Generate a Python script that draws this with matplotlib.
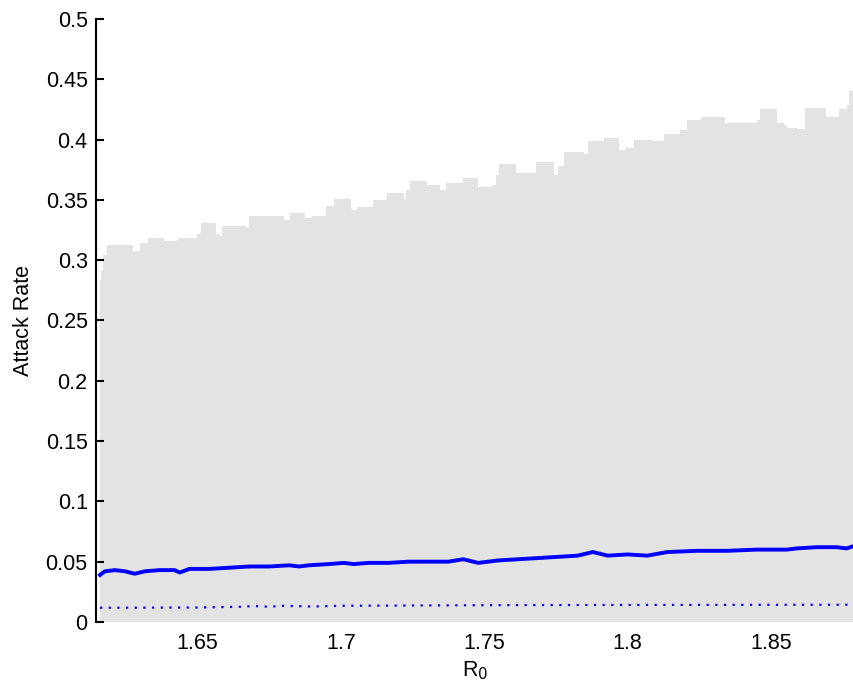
import numpy as np
import matplotlib
matplotlib.use('Agg')
import matplotlib.pyplot as plt

plt.rcParams['font.family'] = ['Liberation Sans', 'DejaVu Sans']

# upper envelope of the grey band (step edges in R0, value per step)
band_edges = [1.6146, 1.6160, 1.6163, 1.6170, 1.6184, 1.6274, 1.6299, 1.6327, 1.6382,
              1.6431, 1.6497, 1.6511, 1.6563, 1.6577, 1.6587, 1.6670, 1.6681, 1.6802,
              1.6823, 1.6875, 1.6899, 1.6948, 1.6976, 1.7035, 1.7056, 1.7111, 1.7160,
              1.7219, 1.7229, 1.7243, 1.7299, 1.7347, 1.7368, 1.7427, 1.7479, 1.7528,
              1.7542, 1.7552, 1.7611, 1.7681, 1.7743, 1.7757, 1.7778, 1.7847, 1.7861,
              1.7917, 1.7972, 1.7990, 1.8021, 1.8090, 1.8128, 1.8184, 1.8208, 1.8257,
              1.8340, 1.8451, 1.8462, 1.8521, 1.8545, 1.8556, 1.8590, 1.8618, 1.8632,
              1.8694, 1.8736, 1.8764, 1.8771, 1.8800]
band_upper = [0.0, 0.2835, 0.292, 0.304, 0.3125, 0.308, 0.314, 0.318, 0.316,
              0.318, 0.322, 0.331, 0.322, 0.320, 0.328, 0.327, 0.337, 0.333,
              0.339, 0.335, 0.337, 0.345, 0.351, 0.342, 0.344, 0.350, 0.356,
              0.351, 0.358, 0.366, 0.362, 0.358, 0.364, 0.368, 0.361, 0.362,
              0.371, 0.380, 0.372, 0.381, 0.371, 0.378, 0.390, 0.388, 0.399,
              0.401, 0.391, 0.393, 0.400, 0.399, 0.405, 0.408, 0.416, 0.419,
              0.414, 0.416, 0.425, 0.414, 0.412, 0.410, 0.409, 0.426, 0.426,
              0.419, 0.425, 0.429, 0.440]

# mean attack rate (solid) and lower line (dotted)
r0_mean = [1.6160, 1.6177, 1.6212, 1.6247, 1.6281, 1.6316, 1.6368, 1.6420, 1.6438,
           1.6472, 1.6542, 1.6611, 1.6681, 1.6750, 1.6820, 1.6854, 1.6889, 1.6958,
           1.7011, 1.7045, 1.7097, 1.7167, 1.7236, 1.7306, 1.7375, 1.7427, 1.7479,
           1.7549, 1.7618, 1.7688, 1.7757, 1.7826, 1.7879, 1.7931, 1.8000, 1.8069,
           1.8139, 1.8243, 1.8347, 1.8451, 1.8556, 1.8590, 1.8660, 1.8729, 1.8764,
           1.8790]
mean_rate = [0.039, 0.042, 0.043, 0.042, 0.040, 0.042, 0.043, 0.043, 0.041,
             0.044, 0.044, 0.045, 0.046, 0.046, 0.047, 0.046, 0.047, 0.048,
             0.049, 0.048, 0.049, 0.049, 0.050, 0.050, 0.050, 0.052, 0.049,
             0.051, 0.052, 0.053, 0.054, 0.055, 0.058, 0.055, 0.056, 0.055,
             0.058, 0.059, 0.059, 0.060, 0.060, 0.061, 0.062, 0.062, 0.061,
             0.063]

r0_low = [1.6160, 1.6500, 1.6650, 1.6700, 1.6750, 1.6800, 1.6900, 1.7000, 1.7200,
          1.7400, 1.7600, 1.8000, 1.8400, 1.8790]
low_rate = [0.0118, 0.0120, 0.0126, 0.0132, 0.0126, 0.0134, 0.0128, 0.0134, 0.0136,
            0.0138, 0.0140, 0.0141, 0.0142, 0.0143]

fig = plt.figure(figsize=(8.54, 6.93), dpi=100)
ax = fig.add_axes([0.1124, 0.1025, 0.8876, 0.8701])

ax.stairs(band_upper, band_edges, baseline=0, fill=True, color='#e3e3e3', lw=0)
ax.plot(r0_mean, mean_rate, color='#0000ff', lw=2.8)
ax.plot(r0_low, low_rate, color='#0000ff', lw=1.6, linestyle=(0, (1, 2.9)))

ax.set_xlim(1.6146, 1.8790)
ax.set_ylim(0, 0.5)
ax.set_yticks(np.arange(0, 0.501, 0.05))
ax.set_yticklabels(['0', '0.05', '0.1', '0.15', '0.2', '0.25', '0.3', '0.35', '0.4', '0.45', '0.5'])
ax.set_xticks([1.65, 1.7, 1.75, 1.8, 1.85])
ax.set_xticklabels(['1.65', '1.7', '1.75', '1.8', '1.85'])

for s in ['top', 'right', 'bottom']:
    ax.spines[s].set_visible(False)
ax.spines['left'].set_linewidth(1.5)
ax.tick_params(axis='y', direction='in', length=6, width=1.5, labelsize=15.5, pad=6)
ax.tick_params(axis='x', length=0, labelsize=15.5, pad=8)

ax.set_xlabel('R$_0$', fontsize=15.5, labelpad=4)
ax.set_ylabel('Attack Rate', fontsize=15.5, labelpad=8)

fig.savefig('out.png', dpi=100)
